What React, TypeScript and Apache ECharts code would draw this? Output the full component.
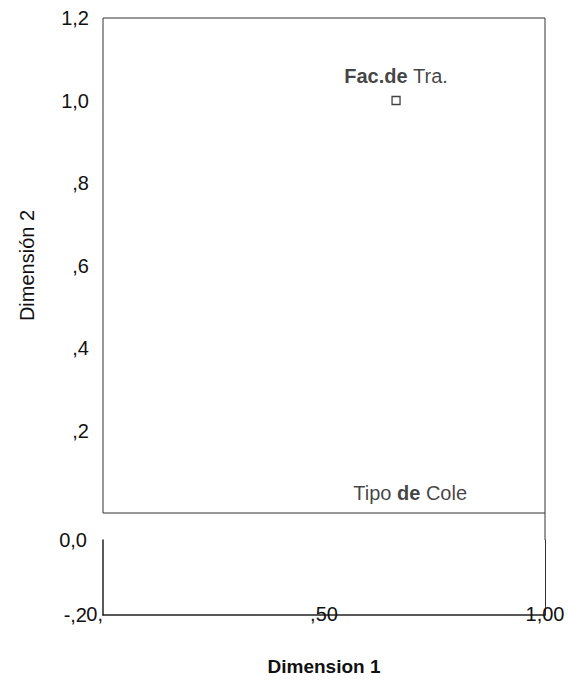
import React, { useEffect, useRef } from "react";
import * as echarts from "echarts";

const pointNames = ["Fac.de Tra.", "Tipo de Cole"];
const dim1Values = [0.663, 0.695];
const dim2Values = [1.0, 0.0];
const pointVisible = [true, false];

const yTicksTop: Record<string, string> = { "1.2": "1,2", "1": "1,0", "0.8": ",8", "0.6": ",6", "0.4": ",4", "0.2": ",2", "0": "" };
const yTicksBottom: Record<string, string> = { "0": "0,0", "-0.2": "-,2" };
const xTicks: Record<string, string> = { "0": "0,", "0.5": ",50", "1": "1,00" };

const FONT = "'Liberation Sans', Arial, sans-serif";
const FS = 20;

function richLabel(name: string): string {
  if (name.startsWith("Fac")) return "{b|Fac.de} {n|Tra.}";
  const i = name.indexOf(" de ");
  return "{n|" + name.slice(0, i + 1) + "}{b|de}{n|" + name.slice(i + 3) + "}";
}

export default function App() {
  const ref = useRef<HTMLDivElement>(null);
  useEffect(() => {
    document.body.style.margin = "0";
    if (!ref.current) return;
    const chart = echarts.init(ref.current, undefined, { renderer: "svg" });
    const data = pointNames.map((n, i) => ({
      name: n,
      value: [dim1Values[i], dim2Values[i]],
      symbolSize: pointVisible[i] ? 8 : 0,
      label: { formatter: richLabel(n) },
    }));
    chart.setOption({
      animation: false,
      backgroundColor: "#fff",
      textStyle: { fontFamily: FONT },
      grid: [
        { left: 103, top: 18, width: 442, height: 495, show: true, borderColor: "#333", borderWidth: 1, backgroundColor: "transparent" },
        { left: 103, top: 540, width: 442, height: 75 },
      ],
      xAxis: [
        { gridIndex: 0, type: "value", min: 0, max: 1, axisLine: { show: false }, axisTick: { show: false }, axisLabel: { show: false }, splitLine: { show: false } },
        {
          gridIndex: 1, type: "value", min: 0, max: 1, interval: 0.5,
          axisLine: { show: true, onZero: false, lineStyle: { color: "#222", width: 1.5 } },
          axisTick: { show: false }, splitLine: { show: false },
          axisLabel: { color: "#111", fontSize: FS, fontFamily: FONT, margin: -11, alignMinLabel: "right", formatter: (v: number) => xTicks[String(v)] ?? "" },
        },
      ],
      yAxis: [
        {
          gridIndex: 0, type: "value", min: 0, max: 1.2, interval: 0.2,
          axisLine: { show: false }, axisTick: { show: false }, splitLine: { show: false },
          axisLabel: { color: "#111", fontSize: FS, fontFamily: FONT, margin: 14, formatter: (v: number) => yTicksTop[String(Math.round(v * 10) / 10)] ?? "" },
          name: "Dimensión 2", nameLocation: "middle", nameGap: 66, nameRotate: 90,
          nameTextStyle: { fontSize: 20, color: "#111", fontFamily: FONT },
        },
        {
          gridIndex: 1, type: "value", min: -0.2, max: 0, interval: 0.2, position: "left",
          axisLine: { show: true, onZero: false, lineStyle: { color: "#222", width: 1.5 } },
          axisTick: { show: false }, splitLine: { show: false },
          axisLabel: { color: "#111", fontSize: FS, fontFamily: FONT, margin: 16, formatter: (v: number) => yTicksBottom[String(Math.round(v * 10) / 10)] ?? "" },
        },
        {
          gridIndex: 1, type: "value", min: -0.2, max: 0, position: "right",
          axisLine: { show: true, onZero: false, lineStyle: { color: "#333", width: 1 } },
          axisTick: { show: false }, axisLabel: { show: false }, splitLine: { show: false },
        },
      ],
      graphic: [
        { type: "line", shape: { x1: 545, y1: 513, x2: 545, y2: 540 }, style: { stroke: "#333", lineWidth: 1 } },
        { type: "text", x: 324, y: 666, style: { text: "Dimension 1", font: "bold 19px " + FONT, fill: "#111", textAlign: "center", textVerticalAlign: "middle" } },
      ],
      series: [
        {
          type: "scatter", xAxisIndex: 0, yAxisIndex: 0,
          symbol: "rect", symbolSize: 8,
          itemStyle: { color: "#fff", borderColor: "#111", borderWidth: 1.3 },
          label: {
            show: true, position: "top", distance: 10, color: "#111", fontSize: FS, fontFamily: FONT,
            rich: {
              b: { fontWeight: "bold", fontSize: FS, color: "#111", fontFamily: FONT },
              n: { fontSize: FS, color: "#111", fontFamily: FONT },
            },
          },
          data,
        },
      ],
    });
    return () => chart.dispose();
  }, []);
  return <div ref={ref} style={{ width: 568, height: 690 }} />;
}
